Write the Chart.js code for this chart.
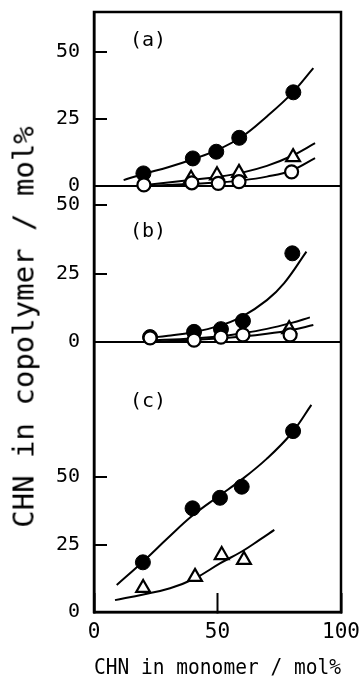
<!DOCTYPE html>
<html>
<head>
<meta charset="utf-8">
<script src="https://cdn.jsdelivr.net/npm/chart.js@4.4.1/dist/chart.umd.min.js"></script>
<style>
  html, body { margin:0; padding:0; background:#fff; }
  #wrap { position:relative; width:360px; height:684px; }
  .lbl { position:absolute; font-family:"DejaVu Sans Mono", monospace; color:#000; line-height:1; white-space:nowrap; }
</style>
</head>
<body>
<div id="wrap">
  <canvas id="chart" width="360" height="684"></canvas>
  <div class="lbl" style="left:130px; top:29px; font-size:20px;">(a)</div>
  <div class="lbl" style="left:130px; top:220px; font-size:20px;">(b)</div>
  <div class="lbl" style="left:130px; top:390px; font-size:20px;">(c)</div>
  <div class="lbl" style="left:24px; top:327px; font-size:29px; transform:translate(-50%,-50%) rotate(-90deg);">CHN in copolymer / mol%</div>
</div>

<script>
// --- panel (a) ---
const aFilledX = [20, 40, 49.5, 58.8, 80.7];
const aFilledY = [4.7, 10.3, 12.8, 18, 35];
const aTriX = [39.3, 49.8, 58.7, 80.6];
const aTriY = [2.7, 4, 4.9, 10.8];
const aOpenX = [20.2, 39.6, 50.3, 58.7, 80];
const aOpenY = [0.4, 1.2, 1, 1.6, 5.3];
const aFitFilledX = [12, 20, 30, 40, 50, 60, 70, 80, 88.8];
const aFitFilledY = [2.2, 4.5, 7, 10, 13.5, 18.5, 26, 34.5, 44];
const aFitTriX = [20, 40, 50, 60, 70, 80, 89.5];
const aFitTriY = [0.3, 2.3, 3.4, 5, 7.5, 11.2, 16];
const aFitOpenX = [20, 40, 50, 60, 70, 80, 89.5];
const aFitOpenY = [0, 0.8, 1.3, 2.1, 3.5, 5.8, 10.4];

// --- panel (b) ---
const bFilledX = [22.7, 40.5, 51.4, 60.3, 80.3];
const bFilledY = [1.8, 3.7, 4.7, 7.7, 32.4];
const bTriX = [79];
const bTriY = [4.7];
const bOpenX = [22.7, 40.5, 51.4, 60.3, 79.4];
const bOpenY = [1.5, 0.7, 1.8, 2.6, 2.6];
const bFitFilledX = [22, 30, 40, 50, 60, 70, 77, 86];
const bFitFilledY = [1.5, 2.3, 3.6, 5.7, 9.3, 15.3, 21.5, 33];
const bFitTriX = [22, 40, 50, 60, 70, 80, 87.4];
const bFitTriY = [0.5, 1.3, 2, 3.2, 4.8, 7, 9];
const bFitOpenX = [22, 40, 50, 60, 70, 80, 88.8];
const bFitOpenY = [0, 0.8, 1.3, 2, 3, 4.4, 6.2];

// --- panel (c) ---
const cFilledX = [19.8, 39.9, 51, 59.8, 80.6];
const cFilledY = [18.4, 38.4, 42.3, 46.4, 67];
const cTriX = [19.9, 40.9, 51.7, 60.7];
const cTriY = [8.9, 13, 21.1, 19.3];
const cFitFilledX = [9.2, 20, 30, 40, 50, 60, 70, 80, 88];
const cFitFilledY = [10, 18.8, 27.5, 35.8, 42.6, 49.2, 56.8, 66.2, 76.7];
const cFitTriX = [8.5, 20, 30.8, 41, 51, 60, 67, 73];
const cFitTriY = [4.4, 6.5, 8.8, 12.5, 18, 22.5, 26.7, 30.4];

// axes
const xTicks = [0, 50, 100];
const yTicks = [0, 25, 50];
const yMaxA = 65, yMaxB = 57, yMaxC = 100;

const pts = (xs, ys) => xs.map((x, i) => ({ x: x, y: ys[i] }));

function openSet(xs, ys, axis) {
  return { data: pts(xs, ys), yAxisID: axis, clip: false, pointStyle: 'circle', pointRadius: 6.5,
    pointBackgroundColor: '#fff', pointBorderColor: '#000', pointBorderWidth: 2.2, showLine: false };
}
function filledSet(xs, ys, axis) {
  return { data: pts(xs, ys), yAxisID: axis, clip: false, pointStyle: 'circle', pointRadius: 7.5,
    pointBackgroundColor: '#000', pointBorderColor: '#000', pointBorderWidth: 1, showLine: false };
}
function triSet(xs, ys, axis) {
  return { data: pts(xs, ys), yAxisID: axis, clip: false, pointStyle: 'triangle', pointRadius: 8,
    pointBackgroundColor: '#fff', pointBorderColor: '#000', pointBorderWidth: 2.2, showLine: false };
}
function fitSet(xs, ys, axis) {
  return { data: pts(xs, ys), yAxisID: axis, showLine: true, pointRadius: 0, borderColor: '#000',
    borderWidth: 2, tension: 0.4, fill: false };
}

// first dataset is drawn on top
const datasets = [
  openSet(aOpenX, aOpenY, 'ya'), openSet(bOpenX, bOpenY, 'yb'),
  filledSet(aFilledX, aFilledY, 'ya'), filledSet(bFilledX, bFilledY, 'yb'), filledSet(cFilledX, cFilledY, 'yc'),
  triSet(aTriX, aTriY, 'ya'), triSet(bTriX, bTriY, 'yb'), triSet(cTriX, cTriY, 'yc'),
  fitSet(aFitFilledX, aFitFilledY, 'ya'), fitSet(aFitTriX, aFitTriY, 'ya'), fitSet(aFitOpenX, aFitOpenY, 'ya'),
  fitSet(bFitFilledX, bFitFilledY, 'yb'), fitSet(bFitTriX, bFitTriY, 'yb'), fitSet(bFitOpenX, bFitOpenY, 'yb'),
  fitSet(cFitFilledX, cFitFilledY, 'yc'), fitSet(cFitTriX, cFitTriY, 'yc')
];

Chart.defaults.color = '#000';
Chart.defaults.font.family = '"DejaVu Sans Mono", monospace';

function yScale(max, weight) {
  return {
    type: 'linear', position: 'left', stack: 'panels', stackWeight: weight,
    min: 0, max: max,
    afterBuildTicks: s => { s.ticks = yTicks.map(v => ({ value: v })); },
    afterFit: s => { s.width = 94; s.paddingTop = 0; s.paddingBottom = 0; },
    border: { display: true, color: '#000', width: 2.5 },
    grid: {
      drawOnChartArea: true,
      color: c => (c.tick && c.tick.value === 0) ? '#000' : 'rgba(0,0,0,0)',
      lineWidth: 2, tickColor: '#000', tickWidth: 2, tickLength: -13
    },
    ticks: { autoSkip: false, padding: 27, font: { size: 20 } }
  };
}

// frame around the plot area, plus inward tick marks on the panel y axes
const frame = {
  id: 'frame',
  beforeDatasetsDraw(chart) {
    const a = chart.chartArea, ctx = chart.ctx;
    ctx.save();
    ctx.strokeStyle = '#000';
    ctx.lineWidth = 2.5;
    ctx.strokeRect(a.left, a.top, a.right - a.left, a.bottom - a.top);
    ctx.lineWidth = 2;
    ['ya', 'yb', 'yc'].forEach(id => {
      const s = chart.scales[id];
      s.ticks.forEach(t => {
        if (t.value === 0) return;
        const y = Math.round(s.getPixelForValue(t.value));
        ctx.beginPath();
        ctx.moveTo(a.left, y);
        ctx.lineTo(a.left + 13, y);
        ctx.stroke();
      });
    });
    ctx.restore();
  }
};

new Chart(document.getElementById('chart'), {
  type: 'scatter',
  data: { datasets: datasets },
  plugins: [frame],
  options: {
    responsive: false,
    animation: false,
    layout: { padding: { top: 12, right: 19, left: 0, bottom: 0 } },
    plugins: { legend: { display: false }, tooltip: { enabled: false } },
    scales: {
      x: {
        type: 'linear', position: 'bottom', min: 0, max: 100,
        afterBuildTicks: s => { s.ticks = xTicks.map(v => ({ value: v })); },
        afterFit: s => { s.height = 72; s.paddingLeft = 0; s.paddingRight = 0; },
        border: { display: true, color: '#000', width: 2.5 },
        grid: { drawOnChartArea: false, tickColor: '#000', tickWidth: 2, tickLength: -19 },
        ticks: { autoSkip: false, maxRotation: 0, padding: 27, font: { size: 21 } },
        title: { display: true, text: 'CHN in monomer / mol%', font: { size: 22 }, padding: { top: 0, bottom: 3 } }
      },
      // defined bottom-up: left stacked axes are laid out in reverse order
      yc: yScale(yMaxC, 270),
      yb: yScale(yMaxB, 156),
      ya: yScale(yMaxA, 174)
    }
  }
});
</script>
</body>
</html>
